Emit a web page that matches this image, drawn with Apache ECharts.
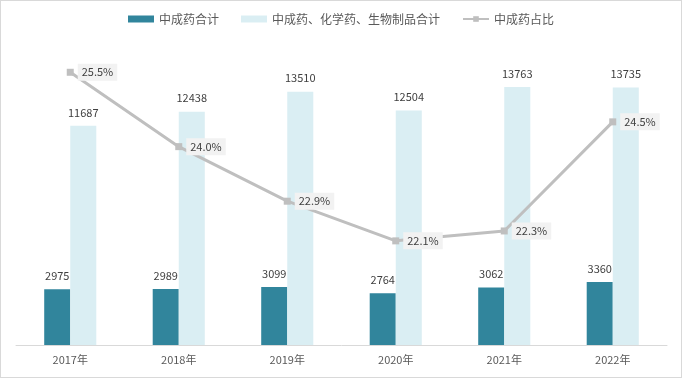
<!DOCTYPE html>
<html><head><meta charset="utf-8">
<script src="https://cdn.jsdelivr.net/npm/echarts@6/dist/echarts.min.js"></script>
<style>
html,body{margin:0;padding:0;background:#fff;}
#c{width:682px;height:378px;box-sizing:border-box;border:1px solid #d9d9d9;}
</style></head>
<body><div id="c"></div>
<script>
const categories = ['2017年','2018年','2019年','2020年','2021年','2022年'];
const tcmTotal = [2975, 2989, 3099, 2764, 3062, 3360];
const allTotal = [11687, 12438, 13510, 12504, 13763, 13735];
const tcmShare = [25.5, 24.0, 22.9, 22.1, 22.3, 24.5];

const FONT = "'Noto Sans CJK SC', 'Noto Sans', sans-serif";
const chart = echarts.init(document.getElementById('c'));
chart.setOption({
  animation: false,
  textStyle: {fontFamily: FONT},
  legend: {
    top: 7, left: 'center', itemGap: 22, itemWidth: 26, itemHeight: 7,
    textStyle: {color: '#595959', fontSize: 12, fontFamily: FONT},
    data: [
      {name: '中成药合计', icon: 'rect'},
      {name: '中成药、化学药、生物制品合计', icon: 'rect'},
      {name: '中成药占比'}
    ]
  },
  grid: {left: 15, right: 14, top: 44, bottom: 32, containLabel: false},
  xAxis: {
    type: 'category', data: categories,
    axisLine: {lineStyle: {color: '#d9d9d9', width: 1}},
    axisTick: {show: false},
    axisLabel: {color: '#595959', fontSize: 11, margin: 9, fontFamily: FONT}
  },
  yAxis: [
    {type: 'value', min: 0, max: 16000, show: false, splitLine: {show: false}},
    {type: 'value', min: 20, max: 26.05, show: false, splitLine: {show: false}}
  ],
  series: [
    {
      name: '中成药合计', type: 'bar', data: tcmTotal, barWidth: '24%', barGap: '0%',
      itemStyle: {color: '#31859c'},
      label: {show: true, position: 'top', distance: 8, color: '#404040', fontSize: 11, fontFamily: FONT}
    },
    {
      name: '中成药、化学药、生物制品合计', type: 'bar', data: allTotal, barWidth: '24%',
      itemStyle: {color: '#daeef3'},
      label: {show: true, position: 'top', distance: 8, color: '#404040', fontSize: 11, fontFamily: FONT}
    },
    {
      name: '中成药占比', type: 'line', yAxisIndex: 1, data: tcmShare,
      symbol: 'rect', symbolSize: 7,
      lineStyle: {color: '#bfbfbf', width: 3},
      itemStyle: {color: '#bfbfbf'},
      label: {
        show: true, position: 'right', distance: 4, color: '#404040', fontSize: 11, fontFamily: FONT,
        backgroundColor: '#f2f2f2', padding: [3, 4],
        formatter: p => p.value.toFixed(1) + '%'
      },
      z: 5
    }
  ]
});
</script></body></html>
